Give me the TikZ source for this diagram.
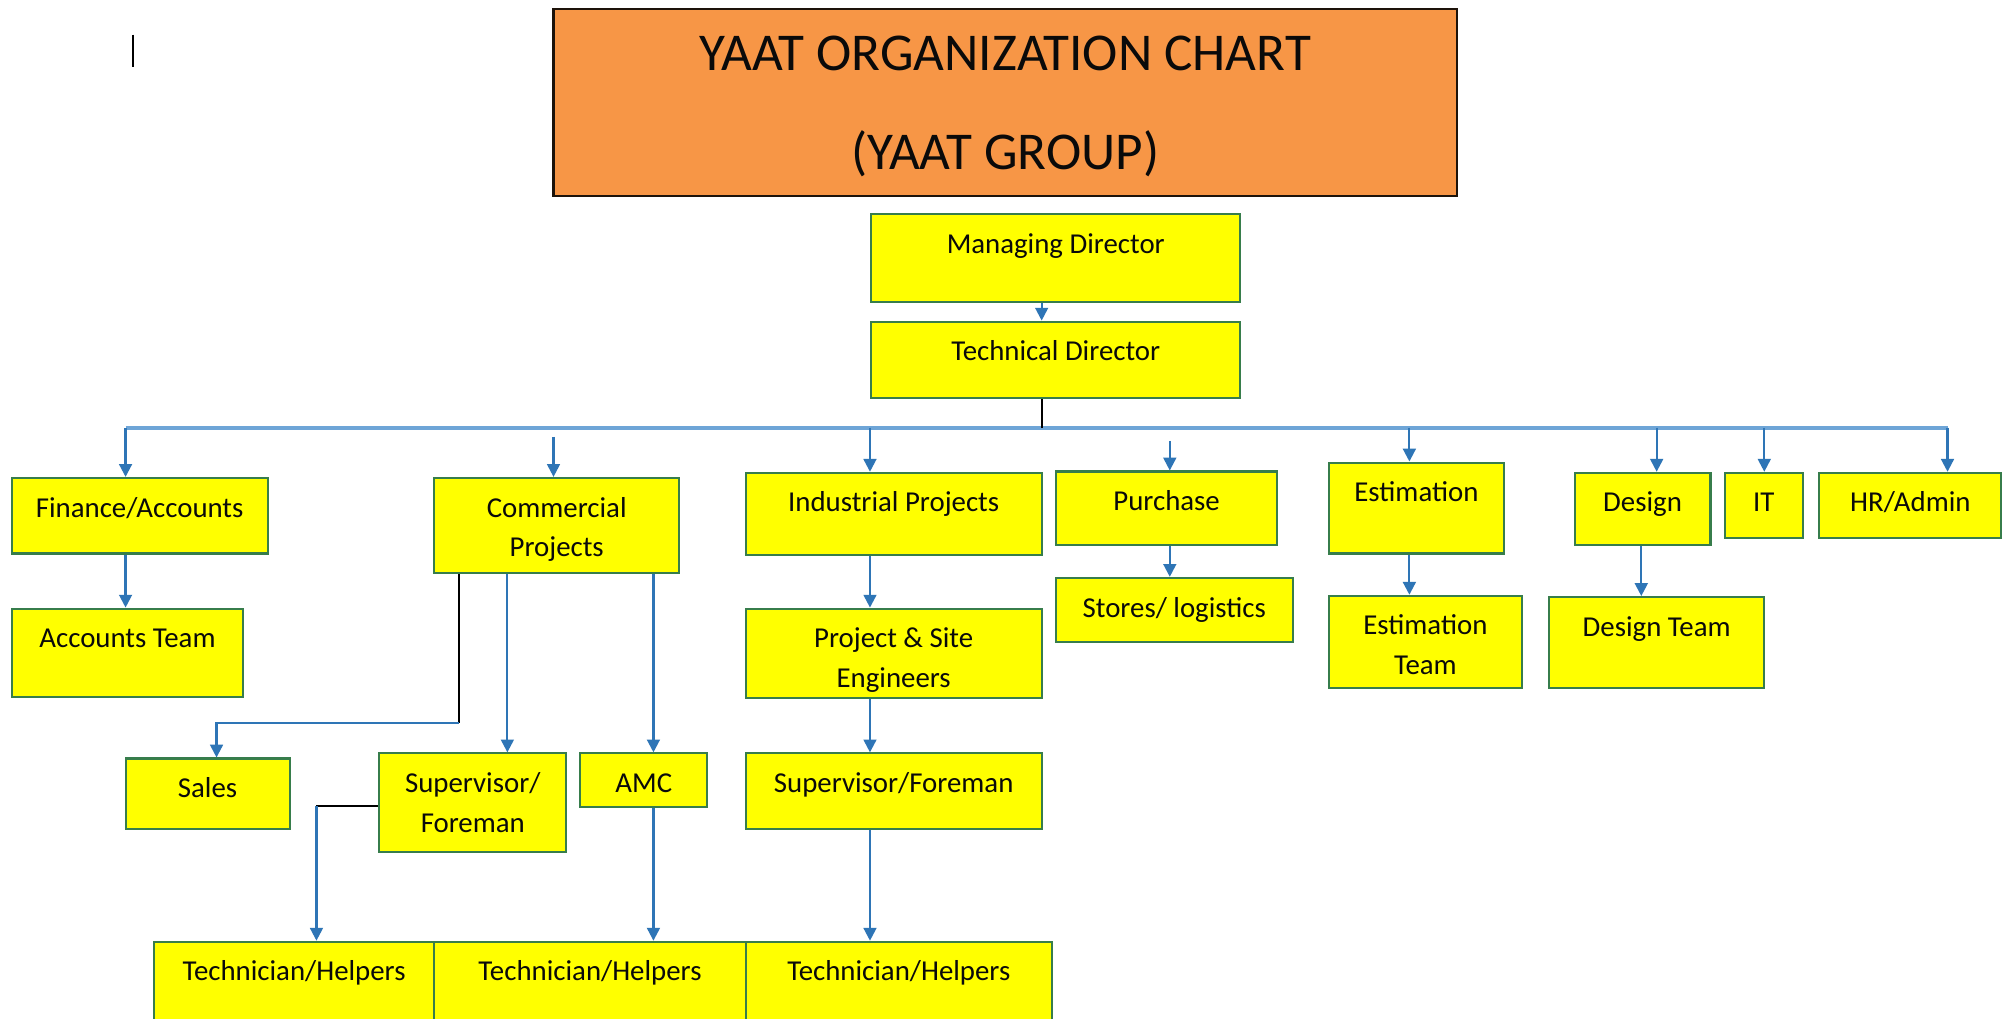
\documentclass[tikz,border=0pt]{standalone}
\usepackage{fontspec}
\setmainfont{Carlito}
\usetikzlibrary{arrows.meta,fit}
\definecolor{titleorange}{RGB}{247,150,70}
\definecolor{boxyellow}{RGB}{255,255,0}
\definecolor{boxborder}{RGB}{55,125,75}
\definecolor{arrowblue}{RGB}{46,117,182}
\definecolor{busblue}{RGB}{110,165,215}
\definecolor{txtcol}{RGB}{10,10,10}
\newcommand\ybox[6]{\node[ybox, fit={(#2,-#3) (#4,-#5)}, label={[lbl]north:{\strut #6}}] (#1) {};}
\begin{document}
\begin{tikzpicture}[x=1pt,y=1pt,
  ybox/.style={draw=boxborder, line width=1.6pt, fill=boxyellow, inner sep=0pt},
  lbl/.style={anchor=north, inner sep=0pt, align=center, yshift=-9.5pt, text=txtcol, font=\fontsize{22.5}{31}\selectfont},
  titlebox/.style={draw=black!85!brown, line width=1.6pt, fill=titleorange, inner sep=0pt},
  arr/.style={draw=arrowblue, line width=1.7pt, -{Triangle[length=10pt,width=10pt]}},
  plainblack/.style={draw=black, line width=1.6pt},
  bus/.style={draw=busblue, line width=3.2pt}]
\useasboundingbox (0,0) rectangle (1568,-795);
\clip (0,0) rectangle (1568,-795);
\fill[white] (0,0) rectangle (1568,-795);

% cursor mark
\coordinate (curA) at (104,-27);
\coordinate (curB) at (104,-52);
\draw[black, line width=1.3pt] (curA) -- (curB);

% title
\node[titlebox, fit={(432,-7) (1137,-153)},
  label={[anchor=north, inner sep=0pt, yshift=5pt, align=center, text=txtcol, font=\fontsize{41.5}{77}\selectfont]north:{\strut YAAT ORGANIZATION CHART\\(YAAT GROUP)}}] (title) {};

% top
\ybox{md}{680}{167}{968}{236}{Managing Director}
\ybox{td}{680}{251}{968}{311}{Technical Director}

% level 2
\ybox{fin}{9}{373}{209}{432}{Finance/Accounts}
\ybox{com}{339}{373}{530}{447}{Commercial\\Projects}
\ybox{ind}{582}{369}{813}{433}{Industrial Projects}
\ybox{pur}{824}{368}{997}{425}{Purchase}
\ybox{est}{1037}{361}{1174}{432}{Estimation}
\ybox{des}{1229}{369}{1335}{425}{Design}
\ybox{it}{1346}{369}{1407}{420}{IT}
\ybox{hr}{1420}{369}{1562}{420}{HR/Admin}

% level 3
\ybox{acc}{9}{475}{190}{544}{Accounts Team}
\ybox{pse}{582}{475}{813}{545}{Project \& Site\\Engineers}
\ybox{sto}{824}{451}{1009}{501}{Stores/ logistics}
\ybox{estt}{1037}{465}{1188}{537}{Estimation\\Team}
\ybox{dest}{1209}{466}{1377}{537}{Design Team}

% level 4
\ybox{sal}{98}{592}{226}{647}{Sales}
\ybox{sfc}{296}{588}{442}{665}{Supervisor/\\Foreman}
\ybox{amc}{453}{588}{552}{630}{AMC}
\ybox{sfi}{582}{588}{813}{647}{Supervisor/Foreman}

% level 5
\ybox{th1}{120}{735}{339}{812}{Technician/Helpers}
\ybox{th2}{339}{735}{582}{812}{Technician/Helpers}
\ybox{th3}{582}{735}{821}{812}{Technician/Helpers}

% connectors
\draw[arr] (813,0 |- md.south) -- (813,0 |- td.north);
\coordinate (busL) at (98,-334);
\coordinate (busR) at (1520,-334);
\coordinate (busT) at (813,-334);
\draw[bus] (busL) -- (busR);
\draw[plainblack] (813,0 |- td.south) -- (busT);

\draw[arr] (busL) -- (98,0 |- fin.north);
\coordinate (comTop) at (432,-341);
\draw[arr] (comTop) -- (432,0 |- com.north);
\draw[arr] (679,-334) -- (679,0 |- ind.north);
\coordinate (purTop) at (913,-344);
\draw[arr] (purTop) -- (913,0 |- pur.north);
\draw[arr] (1100,-334) -- (1100,0 |- est.north);
\draw[arr] (1293,-334) -- (1293,0 |- des.north);
\draw[arr] (1377,-334) -- (1377,0 |- it.north);
\draw[arr] (busR) -- (1520,0 |- hr.north);

\draw[arr] (98,0 |- fin.south) -- (98,0 |- acc.north);
\draw[arr] (679,0 |- ind.south) -- (679,0 |- pse.north);
\draw[arr] (913,0 |- pur.south) -- (913,0 |- sto.north);
\draw[arr] (1100,0 |- est.south) -- (1100,0 |- estt.north);
\draw[arr] (1281,0 |- des.south) -- (1281,0 |- dest.north);
\draw[arr] (679,0 |- pse.south) -- (679,0 |- sfi.north);
\draw[arr] (679,0 |- sfi.south) -- (679,0 |- th3.north);

\coordinate (salBend) at (358,-564);
\draw[plainblack] (358,0 |- com.south) -- (salBend);
\draw[arr] (salBend) -- (169,-564) -- (169,0 |- sal.north);
\draw[arr] (396,0 |- com.south) -- (396,0 |- sfc.north);
\draw[arr] (510,0 |- com.south) -- (510,0 |- amc.north);
\coordinate (thBend) at (247,-629);
\draw[plainblack] (sfc.west |- thBend) -- (thBend);
\draw[arr] (thBend) -- (247,0 |- th1.north);
\draw[arr] (510,0 |- amc.south) -- (510,0 |- th2.north);
\end{tikzpicture}
\end{document}
